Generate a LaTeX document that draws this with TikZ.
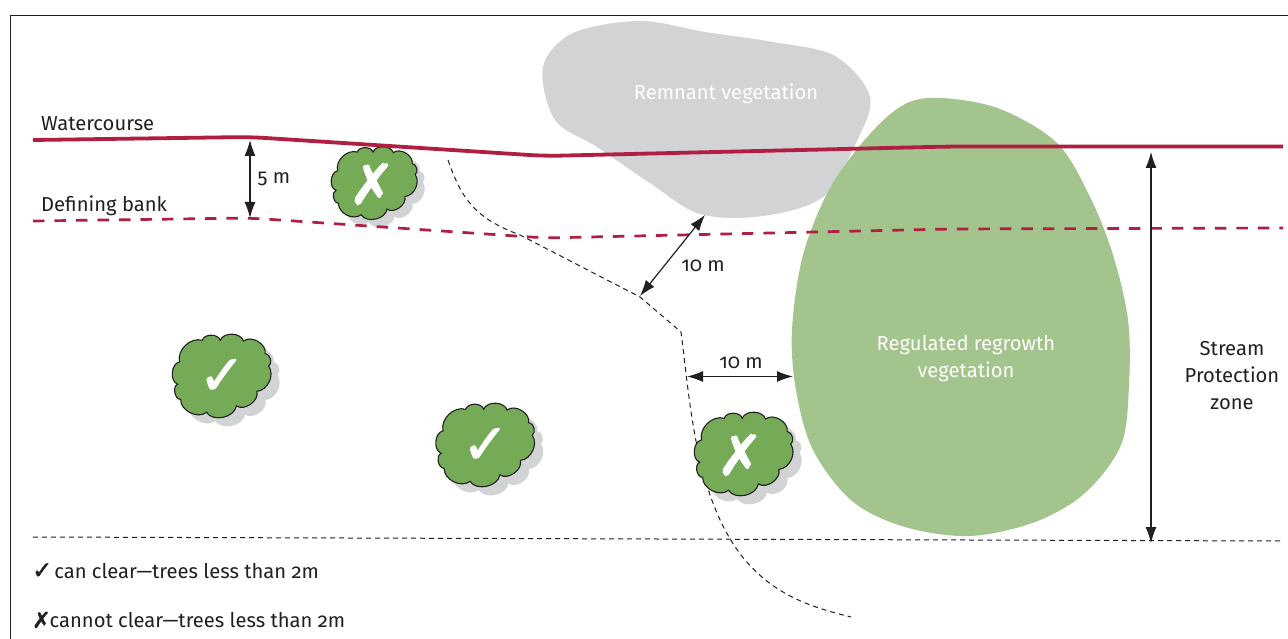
\documentclass[tikz,border=0pt]{standalone}
\usepackage{fontspec}
\setmainfont[Numbers=OldStyle]{Fira Sans}
\newfontfamily\symfont{DejaVu Sans}
\newfontfamily\marksym[FakeBold=1.6]{DejaVu Sans}
\usetikzlibrary{arrows.meta}
\definecolor{wred}{HTML}{B01E42}
\definecolor{treegreen}{HTML}{75AB57}
\definecolor{regrowth}{HTML}{A3C48C}
\definecolor{remnant}{HTML}{D1D3D4}
\definecolor{inkc}{HTML}{231F20}
\tikzset{
  x=1pt,y=-1pt,
  lab/.style={font=\fontsize{20.2}{27}\selectfont,text=inkc,inner sep=0pt,align=center},
  wlab/.style={lab,text=white},
  water/.style={draw=wred,line width=3.8pt,rounded corners=15pt},
  bank/.style={draw=wred,line width=2.7pt,dash pattern=on 11.5pt off 10pt,rounded corners=15pt},
  thin dash/.style={draw=inkc,line width=1pt,dash pattern=on 5pt off 4pt},
  dim/.style={draw=inkc,line width=1.2pt,{Latex[length=16pt,width=11pt]}-{Latex[length=16pt,width=11pt]}},
  treemark/.style={text=white,inner sep=0pt,font=\marksym\fontsize{56}{56}\selectfont},
}
\newcommand{\treepath}{(-39.3,-14) to[bend right=75] (-41,6.7) to[bend right=80] (-38.3,20.7)
  to[bend right=65] (-14.3,32.7) to[bend right=70] (13.3,26.7) to[bend right=70] (32.3,13.3)
  to[bend right=60] (43.3,-10) to[bend right=70] (40,-21.7) to[bend right=70] (20,-33.3)
  to[bend right=70] (-1.7,-34) to[bend right=75] (-18.3,-34) to[bend right=60] (-39.3,-14) -- cycle}
\newcommand{\shrub}[4]{%
  \begin{scope}[shift={(#1)},scale=#2]
    \fill[remnant,shift={(8,8)}] \treepath;
    \filldraw[fill=treegreen,draw=inkc,line width=1.1pt] \treepath;
  \end{scope}
  \node[treemark] at (#4) {#3};}
\begin{document}
\begin{tikzpicture}
\useasboundingbox (0,0) rectangle (1288,639);
\fill[white] (0,0) rectangle (1288,639);
% frame
\coordinate (fa) at (10.5,639); \coordinate (fb) at (10.5,15.5); \coordinate (fc) at (1288,15.5);
\draw[draw=inkc,line width=1pt] (fa) -- (fb) -- (fc);
% vegetation
\fill[remnant] plot[smooth cycle,tension=0.55] coordinates {(543,67) (573,33) (640,21) (705,32) (773,42) (835,56) (870,97) (855,145) (823,197) (763,216) (700,214) (650,183) (597,147) (555,120)};
\fill[regrowth] plot[smooth cycle,tension=0.55] coordinates {(942,98) (1000,109) (1057,143) (1090,197) (1113,255) (1128,320) (1129,385) (1121,445) (1085,493) (1035,522) (970,536) (905,527) (852,501) (813,450) (796,390) (792,330) (803,255) (830,188) (869,135) (905,104)};
\node[wlab] (rem) at (726,94) {Remnant vegetation};
\node[wlab] (reg) at (966,359) {Regulated regrowth\\vegetation};
% boundaries under the shrubs
\coordinate (d1) at (448,160); \coordinate (d2) at (681,332);
\coordinate (d3) at (851,617);
\draw[thin dash] (d1) .. controls (462,200) and (475,218) .. (520,235) -- (640,297) -- (d2) .. controls (690,400) and (695,500) .. (745,560) .. controls (775,595) and (810,607) .. (d3);
% trees
\shrub{222,377}{1.08}{✓}{222,377}
\shrub{485.5,446}{1.08}{✓}{485.5,446}
\shrub{374.5,184}{0.94}{✗}{372,184}
\shrub{744,455}{1.08}{✗}{740,455}
% boundaries
\coordinate (w1) at (33,140); \coordinate (w2) at (250,137); \coordinate (w3) at (545,156); \coordinate (w4) at (950,146.5); \coordinate (w5) at (1283,146.5);
\draw[water] (w1) -- (w2) -- (w3) -- (w4) -- (w5);
\coordinate (b1) at (33,221); \coordinate (b2) at (250,218); \coordinate (b3) at (545,238); \coordinate (b4) at (950,229); \coordinate (b5) at (1283,228);
\draw[bank] (b1) -- (b2) -- (b3) -- (b4) -- (b5);
\coordinate (s1) at (33,537); \coordinate (s2) at (1283,541);
\draw[thin dash] (s1) -- (s2);
% dimensions
\coordinate (a1) at (250,140); \coordinate (a2) at (250,218);
\draw[dim] (a1) -- (a2);
\coordinate (e1) at (705,215); \coordinate (e2) at (640,296);
\draw[dim] (e1) -- (e2);
\coordinate (g1) at (687,376.5); \coordinate (g2) at (793,376.5);
\draw[dim] (g1) -- (g2);
\coordinate (h1) at (1151,152); \coordinate (h2) at (1151,543);
\draw[dim] (h1) -- (h2);
% labels
\node[lab,anchor=west] (wc) at (41,123.5) {Watercourse};
\node[lab,anchor=west] (db) at (41,205.5) {Defining bank};
\node[lab] (five) at (274,179) {5 m};
\node[lab] (tena) at (703,266) {10 m};
\node[lab] (tenb) at (741,363) {10 m};
\node[lab] (spz) at (1232,376) {Stream\\Protection\\zone};
\node[lab,anchor=west] (l1) at (32,571) {{\marksym\fontsize{24}{24}\selectfont ✓}\kern2pt can clear—trees less than 2m};
\node[lab,anchor=west] (l2) at (32,620) {{\marksym\fontsize{22}{22}\selectfont ✗}\kern-1pt cannot clear—trees less than 2m};
\end{tikzpicture}
\end{document}
